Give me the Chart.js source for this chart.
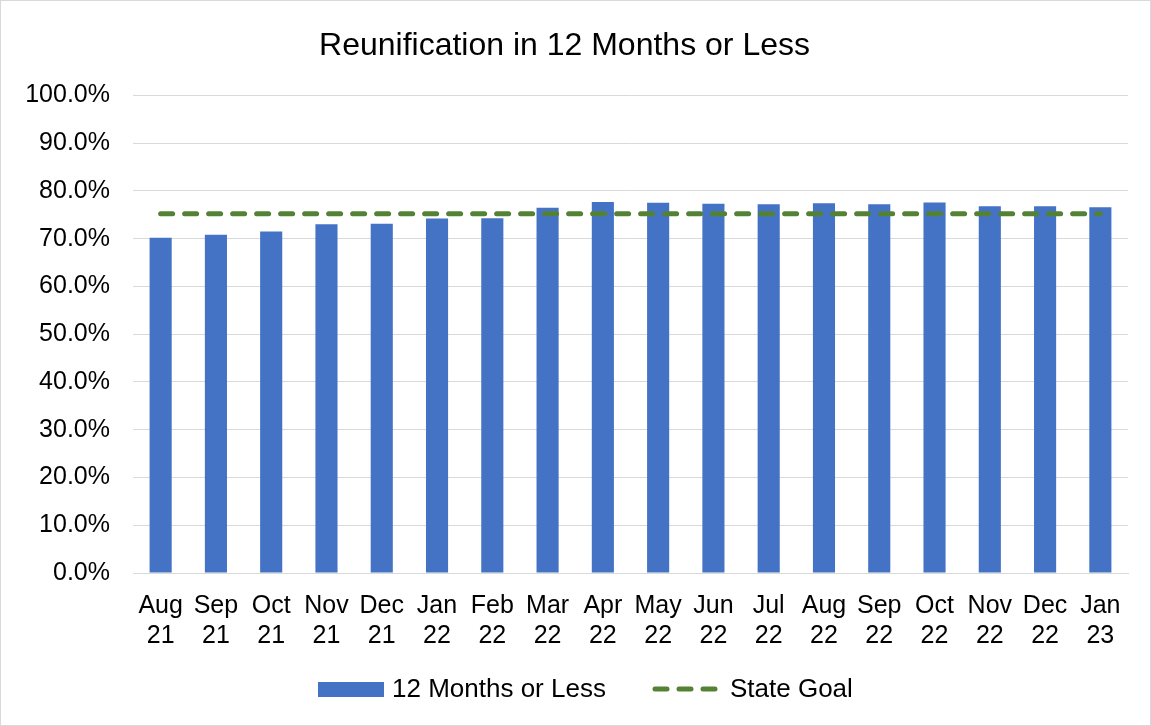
<!DOCTYPE html>
<html>
<head>
<meta charset="utf-8">
<script src="https://cdn.jsdelivr.net/npm/chart.js@4/dist/chart.umd.min.js"></script>
<style>
  html, body { margin: 0; padding: 0; background: #fff; }
  .wrap {
    width: 1149px;
    height: 724px;
    border: 1px solid #d9d9d9;
    position: relative;
  }
  #chart { display: block; }
</style>
</head>
<body>
<div class="wrap">
  <canvas id="chart" width="1149" height="724"></canvas>
</div>
<script>
// categories (two-line labels)
var months = [
  ['Aug', '21'], ['Sep', '21'], ['Oct', '21'], ['Nov', '21'], ['Dec', '21'],
  ['Jan', '22'], ['Feb', '22'], ['Mar', '22'], ['Apr', '22'], ['May', '22'],
  ['Jun', '22'], ['Jul', '22'], ['Aug', '22'], ['Sep', '22'], ['Oct', '22'],
  ['Nov', '22'], ['Dec', '22'], ['Jan', '23']
];
// % reunified in 12 months or less
var within12 = [70.2, 70.8, 71.5, 73.0, 73.1, 74.2, 74.3, 76.5, 77.7, 77.5,
                77.3, 77.2, 77.4, 77.2, 77.6, 76.8, 76.8, 76.6];
// state goal
var stateGoal = [75.2, 75.2, 75.2, 75.2, 75.2, 75.2, 75.2, 75.2, 75.2, 75.2,
                 75.2, 75.2, 75.2, 75.2, 75.2, 75.2, 75.2, 75.2];

var FONT = '"Liberation Sans", Arial, sans-serif';

// legend drawn by hand so the goal shows as a dashed line
var bottomLegend = {
  id: 'bottomLegend',
  afterDraw: function (chart) {
    var ctx = chart.ctx;
    var y = 688;
    ctx.save();
    ctx.font = '26px ' + FONT;
    ctx.textBaseline = 'middle';
    // bar swatch
    ctx.fillStyle = '#4472c4';
    ctx.fillRect(317, y - 7, 66, 15);
    ctx.fillStyle = '#000';
    ctx.fillText('12 Months or Less', 391, y + 1);
    // dashed line swatch
    ctx.strokeStyle = '#548235';
    ctx.lineWidth = 5;
    ctx.lineCap = 'round';
    ctx.setLineDash([12, 12]);
    ctx.beginPath();
    ctx.moveTo(654, y);
    ctx.lineTo(714, y);
    ctx.stroke();
    ctx.setLineDash([]);
    ctx.fillText('State Goal', 729, y + 1);
    ctx.restore();
  }
};

new Chart(document.getElementById('chart'), {
  data: {
    labels: months,
    datasets: [{
      type: 'line',
      label: 'State Goal',
      data: stateGoal,
      borderColor: '#548235',
      borderWidth: 5,
      borderDash: [12, 12],
      borderCapStyle: 'round',
      pointRadius: 0,
      fill: false,
      order: 0
    }, {
      type: 'bar',
      label: '12 Months or Less',
      data: within12,
      backgroundColor: '#4472c4',
      barPercentage: 0.4,
      categoryPercentage: 1.0,
      order: 1
    }]
  },
  options: {
    responsive: false,
    animation: false,
    devicePixelRatio: 1,
    layout: { padding: { left: 0, right: 22, top: 0, bottom: 56 } },
    plugins: {
      legend: { display: false },
      tooltip: { enabled: false },
      title: {
        display: true,
        text: 'Reunification in 12 Months or Less',
        color: '#000',
        font: { family: FONT, size: 32, weight: 'normal' },
        padding: { top: 26, bottom: 30 }
      }
    },
    scales: {
      x: {
        grid: { display: false, drawTicks: false },
        border: { color: '#d9d9d9', width: 1 },
        ticks: {
          color: '#000',
          font: { family: FONT, size: 25 },
          maxRotation: 0,
          autoSkip: false,
          padding: 18
        }
      },
      y: {
        min: 0,
        max: 100,
        afterFit: function (scale) { scale.width = 132; },
        grid: { color: '#d9d9d9', lineWidth: 1, drawTicks: false },
        border: { display: false },
        ticks: {
          stepSize: 10,
          color: '#000',
          font: { family: FONT, size: 25 },
          padding: 23,
          callback: function (v) { return v.toFixed(1) + '%'; }
        }
      }
    }
  },
  plugins: [bottomLegend]
});
</script>
</body>
</html>
